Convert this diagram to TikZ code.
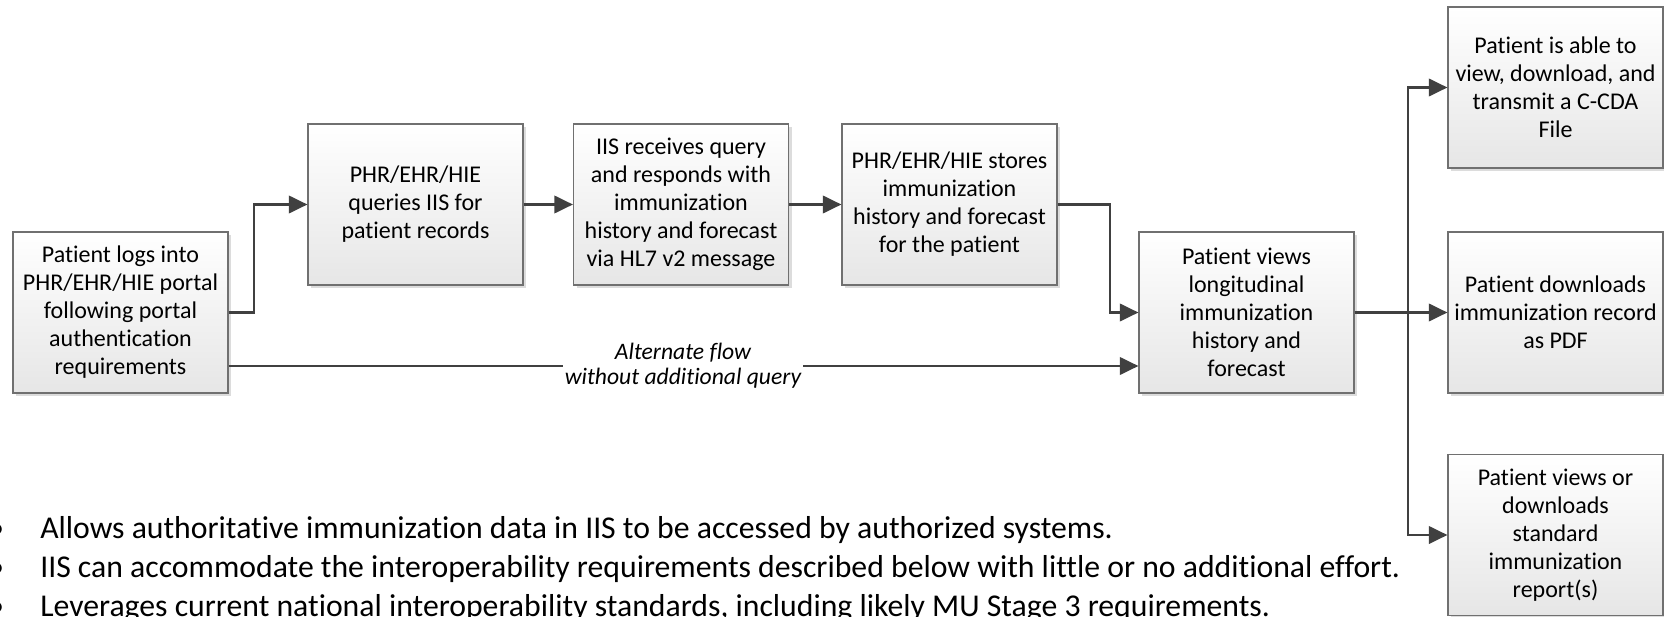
\documentclass[tikz,border=0pt]{standalone}
\usepackage{fontspec}
\setmainfont{Carlito}[Ligatures=CommonOff]
\usepackage{tikz}
\usetikzlibrary{arrows.meta, shadows}
\definecolor{flowgray}{HTML}{404040}
\definecolor{boxline}{HTML}{707070}
\definecolor{boxshade}{HTML}{E6E6E6}
\definecolor{shadowgray}{HTML}{DCDCDC}
\tikzset{
    stepbox/.style={rectangle, draw=boxline, line width=0.8pt, top color=white, bottom color=boxshade,
        minimum width=161.25pt, minimum height=120.75pt, inner sep=2pt, align=center,
        font=\fontsize{18}{21}\selectfont,
        drop shadow={shadow xshift=2.5pt, shadow yshift=-2.5pt, fill=shadowgray, opacity=1}},
    flow/.style={color=flowgray, line width=2.2pt, -{Triangle[length=14pt, width=13pt]}},
    altlabel/.style={fill=white, inner sep=1pt, align=center, font=\fontsize{17.7}{18.5}\selectfont\itshape},
    bullettext/.style={anchor=base west, inner sep=0pt, font=\fontsize{23.8}{30}\selectfont}
}

\begin{document}
\begin{tikzpicture}[x=0.75pt, y=-0.75pt]
    \useasboundingbox (0,0) rectangle (1664,617);

    % ---------------- steps ----------------
    \node[stepbox] (logs) at (120.5,312.5) {Patient logs into\\PHR/EHR/HIE portal\\following portal\\authentication\\requirements};
    \node[stepbox] (query) at (415.5,204.5) {PHR/EHR/HIE\\queries IIS for\\patient records};
    \node[stepbox] (respond) at (681,204.5) {IIS receives query\\and responds with\\immunization\\history and forecast\\via HL7 v2 message};
    \node[stepbox] (store) at (949.5,204.5) {PHR/EHR/HIE stores\\immunization\\history and forecast\\for the patient};
    \node[stepbox] (view) at (1246.5,312.5) {Patient views\\longitudinal\\immunization\\history and\\forecast};

    % ---------------- outcomes ----------------
    \node[stepbox] (ccda) at (1555.5,87.5) {Patient is able to\\view, download, and\\transmit a C-CDA\\File};
    \node[stepbox] (pdf) at (1555.5,312.5) {Patient downloads\\immunization record\\as PDF};
    \node[stepbox] (report) at (1555.5,535) {Patient views or\\downloads\\standard\\immunization\\report(s)};

    % ---------------- connectors ----------------
    \coordinate (j1) at (254,312.5);
    \coordinate (j2) at (1110,204.5);
    \coordinate (j3) at (1408,312.5);
    \coordinate (alt) at (683,366);

    \draw[flow] (logs.east) -- (j1) |- (query.west);
    \draw[flow] (query) -- (respond);
    \draw[flow] (respond) -- (store);
    \draw[flow] (store.east) -- (j2) |- (view.west);
    \draw[flow] (logs.east |- alt) -- (view.west |- alt);
    \node[altlabel] (altnote) at (alt) {Alternate flow\\without additional query};

    \draw[flow] (view.east) -- (pdf.west);
    \draw[flow] (j3) |- (ccda.west);
    \draw[flow] (j3) |- (report.west);

    % ---------------- notes ----------------
    \foreach \txt [count=\i] in {{Allows authoritative immunization data in IIS to be accessed by authorized systems.},
        {IIS can accommodate the interoperability requirements described below with little or no additional effort.},
        {Leverages current national interoperability standards, including likely MU Stage 3 requirements.}} {
        \node[bullettext] (dot\i) at (-12,499+39*\i) {\textbullet};
        \node[bullettext] (note\i) at (40,499+39*\i) {\txt};
    }
\end{tikzpicture}
\end{document}
